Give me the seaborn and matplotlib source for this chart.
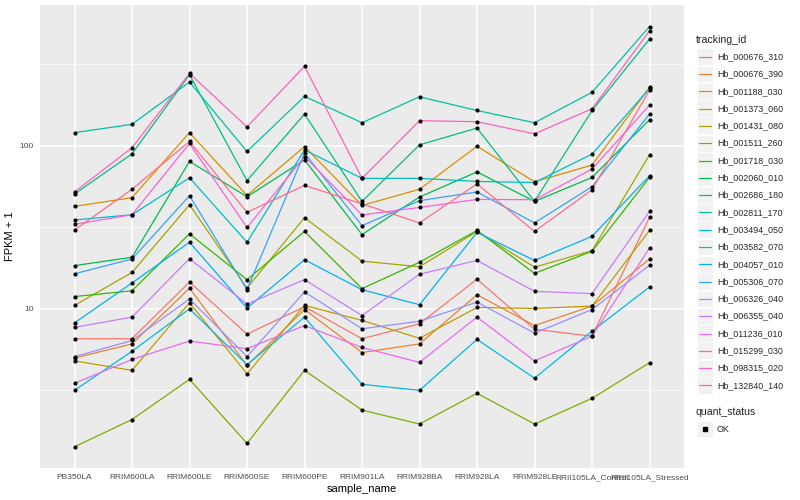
import numpy as np
import pandas as pd
import matplotlib
matplotlib.use("Agg")
import matplotlib.pyplot as plt
import seaborn as sns
from matplotlib.patches import Rectangle
from matplotlib.lines import Line2D

samples = ["PB350LA", "RRIM600LA", "RRIM600LE", "RRIM600SE", "RRIM600PE",
           "RRIM901LA", "RRIM928BA", "RRIM928LA", "RRIM928LE",
           "RRII105LA_Control", "RRII105LA_Stressed"]

tracking_ids = ["Hb_000676_310", "Hb_000676_390", "Hb_001188_030", "Hb_001373_060",
                "Hb_001431_080", "Hb_001511_260", "Hb_001718_030", "Hb_002060_010",
                "Hb_002686_180", "Hb_002811_170", "Hb_003494_050", "Hb_003582_070",
                "Hb_004057_010", "Hb_005306_070", "Hb_006326_040", "Hb_006355_040",
                "Hb_011236_010", "Hb_015299_030", "Hb_098315_020", "Hb_132840_140"]

# FPKM + 1 values per gene, in sample order
hb_000676_310 = [6.56, 6.56, 14.6, 7.0, 10.3, 6.56, 8.1, 15.2, 7.5, 6.8, 36.3]
hb_000676_390 = [5.0, 6.1, 13.4, 4.5, 9.9, 5.4, 6.1, 12.2, 7.9, 10.4, 20.2]
hb_001188_030 = [42.4, 48.0, 120.0, 49.5, 98.6, 43.0, 54.0, 99.0, 60.0, 76.0, 227.0]
hb_001373_060 = [4.8, 4.2, 10.9, 4.0, 10.5, 8.5, 6.6, 10.2, 10.05, 10.4, 30.2]
hb_001431_080 = [10.5, 16.7, 43.4, 13.4, 36.2, 19.6, 18.1, 29.8, 18.0, 22.7, 87.7]
hb_001511_260 = [1.43, 2.1, 3.7, 1.5, 4.2, 2.4, 1.97, 3.04, 1.97, 2.83, 4.68]
hb_001718_030 = [11.9, 12.9, 28.8, 15.1, 29.8, 13.3, 19.3, 30.2, 16.5, 22.5, 63.8]
hb_002060_010 = [18.4, 20.7, 80.0, 48.6, 81.8, 28.5, 48.4, 69.0, 45.5, 63.8, 144.0]
hb_002686_180 = [50.5, 89.0, 272.0, 61.0, 156.0, 45.5, 101.0, 128.0, 45.5, 164.0, 449.0]
hb_002811_170 = [120.0, 135.0, 245.0, 92.0, 200.0, 138.0, 199.0, 164.0, 138.0, 212.0, 536.0]
hb_003494_050 = [35.0, 37.7, 63.5, 25.6, 94.0, 63.0, 63.0, 60.3, 59.4, 88.6, 224.0]
hb_003582_070 = [3.17, 5.5, 10.0, 4.55, 8.9, 3.45, 3.17, 6.5, 3.76, 7.3, 13.6]
hb_004057_010 = [8.2, 14.4, 25.6, 10.1, 20.0, 13.1, 10.6, 29.4, 19.8, 27.8, 65.3]
hb_005306_070 = [16.4, 20.2, 49.3, 13.1, 90.0, 32.3, 46.0, 52.0, 33.6, 56.0, 156.0]
hb_006326_040 = [5.1, 6.4, 11.5, 5.1, 12.7, 7.55, 8.4, 11.0, 7.1, 9.9, 18.5]
hb_006355_040 = [7.7, 8.9, 20.3, 10.7, 15.1, 9.1, 16.3, 19.8, 12.8, 12.4, 39.5]
hb_011236_010 = [3.5, 4.9, 6.35, 5.7, 7.9, 5.8, 4.7, 8.9, 4.8, 6.8, 23.6]
hb_015299_030 = [33.0, 37.7, 103.0, 31.5, 85.7, 37.6, 41.8, 46.8, 46.6, 71.8, 177.0]
hb_098315_020 = [52.0, 97.0, 277.0, 130.0, 306.0, 63.0, 142.0, 140.0, 118.0, 168.0, 504.0]
hb_132840_140 = [30.4, 54.0, 106.0, 39.0, 57.0, 44.0, 33.6, 58.3, 29.8, 53.6, 219.0]

series = [hb_000676_310, hb_000676_390, hb_001188_030, hb_001373_060, hb_001431_080,
          hb_001511_260, hb_001718_030, hb_002060_010, hb_002686_180, hb_002811_170,
          hb_003494_050, hb_003582_070, hb_004057_010, hb_005306_070, hb_006326_040,
          hb_006355_040, hb_011236_010, hb_015299_030, hb_098315_020, hb_132840_140]

quant_status = ["OK"]

colors = ["#F8766D", "#EA8331", "#D89000", "#C09B00", "#A3A500", "#7CAE00", "#39B600",
          "#00BB4E", "#00BF7D", "#00C1A3", "#00BFC4", "#00BAE0", "#00B0F6", "#35A2FF",
          "#9590FF", "#C77CFF", "#E76BF3", "#FA62DB", "#FF62BC", "#FF6C91"]

rows = []
for tid, vals in zip(tracking_ids, series):
    for s, v in zip(samples, vals):
        rows.append({"tracking_id": tid, "sample_name": s, "fpkm1": v,
                     "quant_status": quant_status[0]})
df = pd.DataFrame(rows)

sns.set_theme(style="white")
plt.rcParams["font.family"] = ["Liberation Sans", "DejaVu Sans"]

W, H = 800, 500
fig = plt.figure(figsize=(8, 5), dpi=100)
pl, pr, pt, pb = 40, 684, 5, 468
ax = fig.add_axes([pl / W, 1 - pb / H, (pr - pl) / W, (pb - pt) / H])
ax.set_facecolor("#EBEBEB")

sns.lineplot(data=df, x="sample_name", y="fpkm1", hue="tracking_id",
             hue_order=tracking_ids, palette=colors, sort=False,
             estimator=None, errorbar=None, linewidth=0.9, legend=False, ax=ax, zorder=2)
sns.scatterplot(data=df, x="sample_name", y="fpkm1", color="black", s=9,
                marker="o", linewidth=0, legend=False, ax=ax, zorder=3)

ax.set_yscale("log")
ax.set_ylim(1.06, 726)
ax.set_xlim(-0.6, len(samples) - 0.4)
ax.set_yticks([10, 100])
ax.set_yticklabels(["10", "100"])
ax.set_yticks([10 ** 0.5, 10 ** 1.5, 10 ** 2.5], minor=True)
ax.yaxis.set_minor_formatter(matplotlib.ticker.NullFormatter())
ax.set_xticks(range(len(samples)))
ax.set_xticklabels(samples)
ax.grid(which="major", color="white", linewidth=1.1)
ax.grid(which="minor", axis="y", color="white", linewidth=0.5)
ax.set_axisbelow(True)
for sp in ax.spines.values():
    sp.set_visible(False)
ax.tick_params(axis="both", which="major", length=2.5, width=0.6, color="#333333",
               labelcolor="#4D4D4D", labelsize=6, pad=2)
ax.tick_params(axis="y", which="minor", length=0)
ax.set_xlabel("sample_name", fontsize=8, color="black", labelpad=2)
ax.set_ylabel("FPKM + 1", fontsize=8, color="black", labelpad=3)

# legend (ggplot style)
def fy(y):
    return 1 - y / H

def fx(x):
    return x / W

fig.text(fx(696), fy(40), "tracking_id", fontsize=7.6, va="center", ha="left")
step = 17.3
y0 = 56.7
for i, (tid, c) in enumerate(zip(tracking_ids, colors)):
    yc = y0 + step * i
    fig.patches.append(Rectangle((fx(696.5), fy(yc + 8.4)), 16.5 / W, 16.8 / H,
                                 transform=fig.transFigure, facecolor="#F2F2F2",
                                 edgecolor="white", linewidth=0.6))
    fig.lines.append(Line2D([fx(698.5), fx(711)], [fy(yc), fy(yc)],
                            transform=fig.transFigure, color=c, linewidth=0.9))
    fig.text(fx(717), fy(yc), tid, fontsize=6.4, va="center", ha="left")

fig.text(fx(696), fy(412), "quant_status", fontsize=7.6, va="center", ha="left")
yc = 429
fig.patches.append(Rectangle((fx(696.5), fy(yc + 8.4)), 16.5 / W, 16.8 / H,
                             transform=fig.transFigure, facecolor="#F2F2F2",
                             edgecolor="white", linewidth=0.6))
fig.lines.append(Line2D([fx(704.7)], [fy(yc)], transform=fig.transFigure,
                        marker="s", markersize=2.6, color="black", linestyle="none"))
fig.text(fx(717), fy(yc), quant_status[0], fontsize=6.4, va="center", ha="left")

fig.savefig("out.png", dpi=100, facecolor="white")
